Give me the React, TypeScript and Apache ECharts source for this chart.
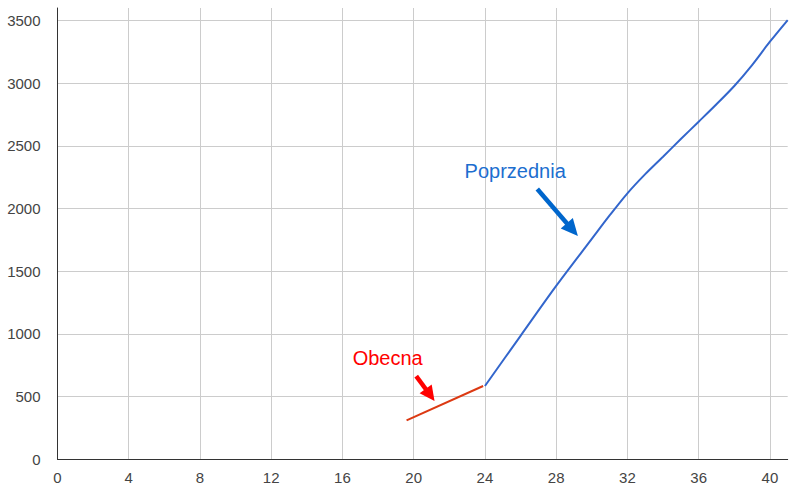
import React, { useEffect, useRef } from "react";
import * as echarts from "echarts";

const obecnaX = [19.6, 23.9];
const obecnaY = [311, 585];

const poprzedniaX = [24, 26, 28, 30, 31, 32, 33, 34, 35, 36, 37, 38, 39, 40, 41];
const poprzedniaY = [585, 985, 1383, 1758, 1945, 2122, 2275, 2414, 2555, 2693, 2832, 2978, 3145, 3331, 3504];

const xTicks = [0, 4, 8, 12, 16, 20, 24, 28, 32, 36, 40];
const yTicks = [0, 500, 1000, 1500, 2000, 2500, 3000, 3500];

// annotations in data coordinates
const annoPoprzednia = { text: "Poprzednia", at: [25.7, 2300], from: [26.94, 2156], to: [29.22, 1781] };
const annoObecna = { text: "Obecna", at: [18.54, 808], from: [20.14, 664], to: [21.17, 465] };

const FONT = 'Arial, "Liberation Sans", sans-serif';

function arrow(p0: number[], p1: number[], color: string, shaftW: number, headLen: number, headW: number) {
  const dx = p1[0] - p0[0];
  const dy = p1[1] - p0[1];
  const len = Math.sqrt(dx * dx + dy * dy);
  const ux = dx / len, uy = dy / len;
  const nx = -uy, ny = ux;
  const bx = p1[0] - ux * headLen, by = p1[1] - uy * headLen;
  return [
    {
      type: "line",
      shape: { x1: p0[0], y1: p0[1], x2: bx + ux * 2, y2: by + uy * 2 },
      style: { stroke: color, lineWidth: shaftW },
      silent: true,
    },
    {
      type: "polygon",
      shape: {
        points: [
          [p1[0], p1[1]],
          [bx + nx * headW / 2, by + ny * headW / 2],
          [bx - nx * headW / 2, by - ny * headW / 2],
        ],
      },
      style: { fill: color },
      silent: true,
    },
  ];
}

export default function App() {
  const ref = useRef<HTMLDivElement>(null);
  useEffect(() => {
    document.body.style.margin = "0";
    const chart = echarts.init(ref.current!, null, { renderer: "svg" });
    chart.setOption({
      animation: false,
      backgroundColor: "#ffffff",
      grid: { left: 57.5, right: 9.3, top: 8, bottom: 36.7, containLabel: false },
      xAxis: {
        type: "value",
        min: 0,
        max: 41,
        interval: 4,
        axisLine: { show: true, onZero: false, lineStyle: { color: "#333333", width: 1 } },
        axisTick: { show: false },
        axisLabel: {
          color: "#444444",
          fontSize: 15,
          fontFamily: FONT,
          margin: 11,
          showMaxLabel: false,
          formatter: (v: number) => (xTicks.includes(v) ? String(v) : ""),
        },
        splitLine: { show: true, showMinLine: false, showMaxLine: false, lineStyle: { color: "#cccccc", width: 1 } },
      },
      yAxis: {
        type: "value",
        min: 0,
        max: 3600,
        interval: 500,
        axisLine: { show: true, onZero: false, lineStyle: { color: "#333333", width: 1 } },
        axisTick: { show: false },
        axisLabel: {
          color: "#444444",
          fontSize: 15,
          fontFamily: FONT,
          margin: 17,
          showMaxLabel: false,
          formatter: (v: number) => (yTicks.includes(v) ? String(v) : ""),
        },
        splitLine: { show: true, showMinLine: false, showMaxLine: false, lineStyle: { color: "#cccccc", width: 1 } },
      },
      series: [
        {
          name: "Obecna",
          type: "line",
          data: obecnaX.map((x, i) => [x, obecnaY[i]]),
          showSymbol: false,
          symbol: "none",
          lineStyle: { color: "#dc3912", width: 2 },
          itemStyle: { color: "#dc3912" },
        },
        {
          name: "Poprzednia",
          type: "line",
          data: poprzedniaX.map((x, i) => [x, poprzedniaY[i]]),
          showSymbol: false,
          symbol: "none",
          smooth: 0.3,
          lineStyle: { color: "#3366cc", width: 2 },
          itemStyle: { color: "#3366cc" },
        },
      ],
    });

    const px = (p: number[]) => chart.convertToPixel({ gridIndex: 0 }, p) as number[];
    const pA = px(annoPoprzednia.at);
    const oA = px(annoObecna.at);
    const graphic: any[] = [
      {
        type: "text",
        x: pA[0],
        y: pA[1],
        silent: true,
        style: {
          text: annoPoprzednia.text,
          fill: "#1c6ecf",
          fontSize: 20,
          fontFamily: FONT,
          align: "center",
          verticalAlign: "middle",
        },
      },
      ...arrow(px(annoPoprzednia.from), px(annoPoprzednia.to), "#0066cc", 4.5, 17, 16),
      {
        type: "text",
        x: oA[0],
        y: oA[1],
        silent: true,
        style: {
          text: annoObecna.text,
          fill: "#ff0000",
          fontSize: 20,
          fontFamily: FONT,
          align: "center",
          verticalAlign: "middle",
        },
      },
      ...arrow(px(annoObecna.from), px(annoObecna.to), "#ff0000", 4.5, 15, 15),
    ];
    chart.setOption({ graphic });
    return () => chart.dispose();
  }, []);
  return <div ref={ref} style={{ width: 797, height: 496 }} />;
}
